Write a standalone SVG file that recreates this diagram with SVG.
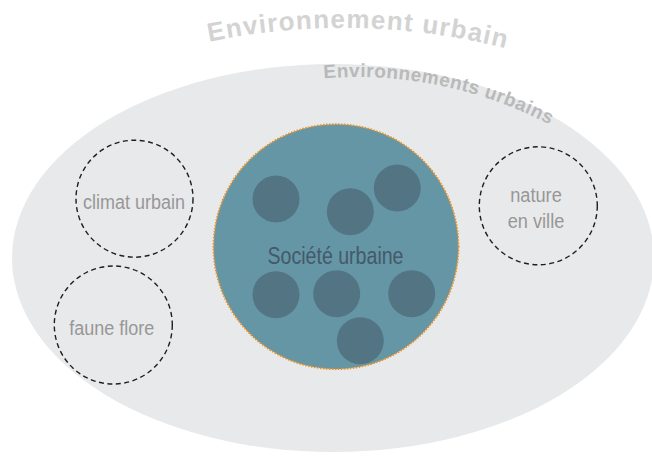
<svg xmlns="http://www.w3.org/2000/svg" xmlns:xlink="http://www.w3.org/1999/xlink" width="652" height="457" viewBox="0 0 652 457">
  <style>
    .arc-title { font-family: "Liberation Sans", Arial, sans-serif; font-weight: bold; }
    .label { font-family: "Liberation Sans", Arial, sans-serif; font-size: 20px; fill: #979797; text-anchor: middle; }
    .dashed { fill: none; stroke: #1e1e1e; stroke-width: 1.4; stroke-dasharray: 5 3.5; }
    .member { fill: #537483; }
  </style>
  <defs>
    <path id="arc1" d="M150,56.8 A660,660 0 0 1 560,64.7"/>
    <path id="arc2" d="M300,80.8 A417,417 0 0 1 620,171.2"/>
  </defs>
  <rect width="652" height="457" fill="#ffffff"/>

  <g id="environnement-urbain">
    <text class="arc-title" font-size="26" fill="#d3d3d3" letter-spacing="1.2"><textPath xlink:href="#arc1" href="#arc1" startOffset="61">Environnement urbain</textPath></text>
  </g>

  <g id="environnements-urbains">
    <ellipse cx="333" cy="258" rx="321" ry="194" fill="#e8e9ea"/>
    <text class="arc-title" font-size="19" fill="#b9b9b9" letter-spacing="0.5"><textPath xlink:href="#arc2" href="#arc2" startOffset="24">Environnements urbains</textPath></text>
  </g>

  <g id="climat-urbain">
    <circle class="dashed" cx="134.5" cy="198.7" r="58.5"/>
    <text class="label" x="134" y="209.3" textLength="102" lengthAdjust="spacingAndGlyphs">climat urbain</text>
  </g>

  <g id="faune-flore">
    <circle class="dashed" cx="113.3" cy="325" r="59"/>
    <text class="label" x="111.7" y="335" textLength="85" lengthAdjust="spacingAndGlyphs">faune flore</text>
  </g>

  <g id="nature-en-ville">
    <circle class="dashed" cx="538.3" cy="205.8" r="59"/>
    <text class="label" x="536" y="201.7" textLength="51.7" lengthAdjust="spacingAndGlyphs">nature</text>
    <text class="label" x="536" y="228.3" textLength="56.6" lengthAdjust="spacingAndGlyphs">en ville</text>
  </g>

  <g id="societe-urbaine">
    <circle cx="336" cy="246.7" r="122.5" fill="#6596a5" stroke="#f0901e" stroke-width="1.8" stroke-dasharray="1.5 1.5"/>
    <circle class="member" cx="276" cy="199" r="23.5"/>
    <circle class="member" cx="350.3" cy="211.7" r="23.5"/>
    <circle class="member" cx="397.3" cy="188" r="23.5"/>
    <circle class="member" cx="276" cy="294.7" r="23.5"/>
    <circle class="member" cx="336.7" cy="293.7" r="23.5"/>
    <circle class="member" cx="411.7" cy="293.7" r="23.5"/>
    <circle class="member" cx="360.3" cy="340.7" r="23.5"/>
    <text x="335.5" y="264.3" font-family="'Liberation Sans', Arial, sans-serif" font-size="23" fill="#44596a" text-anchor="middle" textLength="136" lengthAdjust="spacingAndGlyphs">Société urbaine</text>
  </g>
</svg>
